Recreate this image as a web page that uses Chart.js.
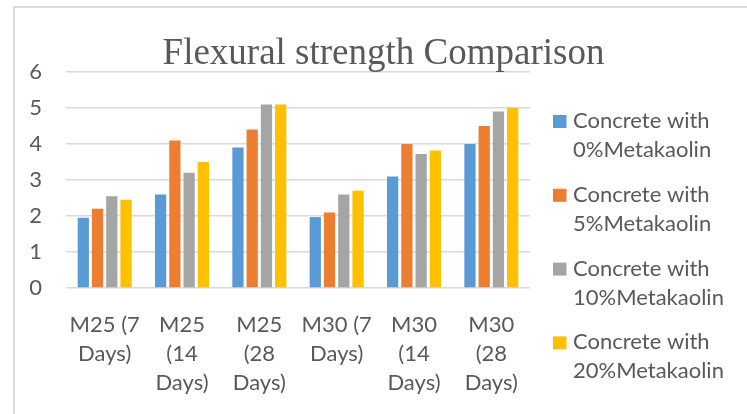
<!DOCTYPE html>
<html>
<head>
<meta charset="utf-8">
<script src="https://cdn.jsdelivr.net/npm/chart.js@4.4.0/dist/chart.umd.min.js"></script>
<style>
  html, body { margin: 0; padding: 0; background: #fff; overflow: hidden; }
  #frame { position: absolute; left: 13px; top: 6px; width: 900px; height: 600px; border: 2px solid #dcdcdc; }
  #wrap { position: absolute; left: 0; top: 0; width: 747px; height: 414px; }
</style>
</head>
<body>
<div id="frame"></div>
<div id="wrap"><canvas id="chart"></canvas></div>
<script>
const categories = [
    ['M25 (7', 'Days)'],
    ['M25', '(14', 'Days)'],
    ['M25', '(28', 'Days)'],
    ['M30 (7', 'Days)'],
    ['M30', '(14', 'Days)'],
    ['M30', '(28', 'Days)']
]
const seriesNames = [
    ['Concrete with', '0%Metakaolin'],
    ['Concrete with', '5%Metakaolin'],
    ['Concrete with', '10%Metakaolin'],
    ['Concrete with', '20%Metakaolin']
]
const mk0 = [1.95, 2.6, 3.9, 1.97, 3.1, 4.0]
const mk5 = [2.2, 4.1, 4.4, 2.1, 4.0, 4.5]
const mk10 = [2.55, 3.2, 5.1, 2.6, 3.72, 4.9]
const mk20 = [2.45, 3.5, 5.1, 2.7, 3.82, 5.0]
const yTicks = [0, 1, 2, 3, 4, 5, 6]
const colors = ['#5B9BD5', '#ED7D31', '#A5A5A5', '#FFC000']

const textColor = '#595959'
const sans = { family: 'Lato', size: 22, lineHeight: 1.318 }

// legend with two-line labels, drawn in the space kept free on the right
const sideLegend = {
    id: 'sideLegend',
    afterDraw(chart) {
        const c = chart.ctx
        c.save()
        c.font = '22px Lato'
        c.textBaseline = 'alphabetic'
        c.textAlign = 'left'
        chart.data.datasets.forEach((ds, i) => {
            const top = 115 + i * 73.8
            c.fillStyle = ds.backgroundColor
            c.fillRect(553, top, 13.5, 13)
            c.fillStyle = textColor
            seriesNames[i].forEach((line, j) => c.fillText(line, 573, top + 13 + j * 29))
        })
        c.restore()
    }
}

const ctx = document.getElementById('chart').getContext('2d')

const chart = new Chart(ctx, {
    type: 'bar',
    data: {
        labels: categories,
        datasets: [mk0, mk5, mk10, mk20].map((vals, i) => ({
            label: seriesNames[i].join(' '),
            data: vals,
            backgroundColor: colors[i],
            categoryPercentage: 0.737,
            barPercentage: 0.79,
        }))
    },
    options: {
        responsive: true,
        maintainAspectRatio: false,
        animation: false,
        layout: { padding: { left: 30, right: 10, top: 0, bottom: 0 } },
        plugins: {
            tooltip: { enabled: false },
            legend: { display: false },
            title: {
                display: true,
                text: 'Flexural strength Comparison',
                color: textColor,
                font: { family: 'Liberation Serif', size: 37, weight: 'normal', lineHeight: 0.9 },
                padding: { top: 37.35, bottom: 1.35 }
            }
        },
        scales: {
            x: {
                grid: { display: false, drawTicks: false },
                border: { display: false },
                afterFit: (axis) => { axis.height = 126 },
                ticks: { color: textColor, font: sans, maxRotation: 0, autoSkip: false, padding: 22 }
            },
            y: {
                min: 0,
                max: 6,
                afterBuildTicks: (axis) => { axis.ticks = yTicks.map(v => ({ value: v })) },
                afterFit: (axis) => { axis.width = 36 },
                grid: { color: '#d9d9d9', lineWidth: 1.5, drawTicks: false },
                border: { display: false },
                ticks: { color: textColor, font: sans, padding: 24 }
            },
            // empty axis that only keeps room for the legend
            legendSpace: {
                position: 'right',
                grid: { display: false, drawTicks: false },
                border: { display: false },
                ticks: { display: false },
                afterFit: (axis) => { axis.width = 207 }
            }
        }
    },
    plugins: [sideLegend]
})
</script>
</body>
</html>
